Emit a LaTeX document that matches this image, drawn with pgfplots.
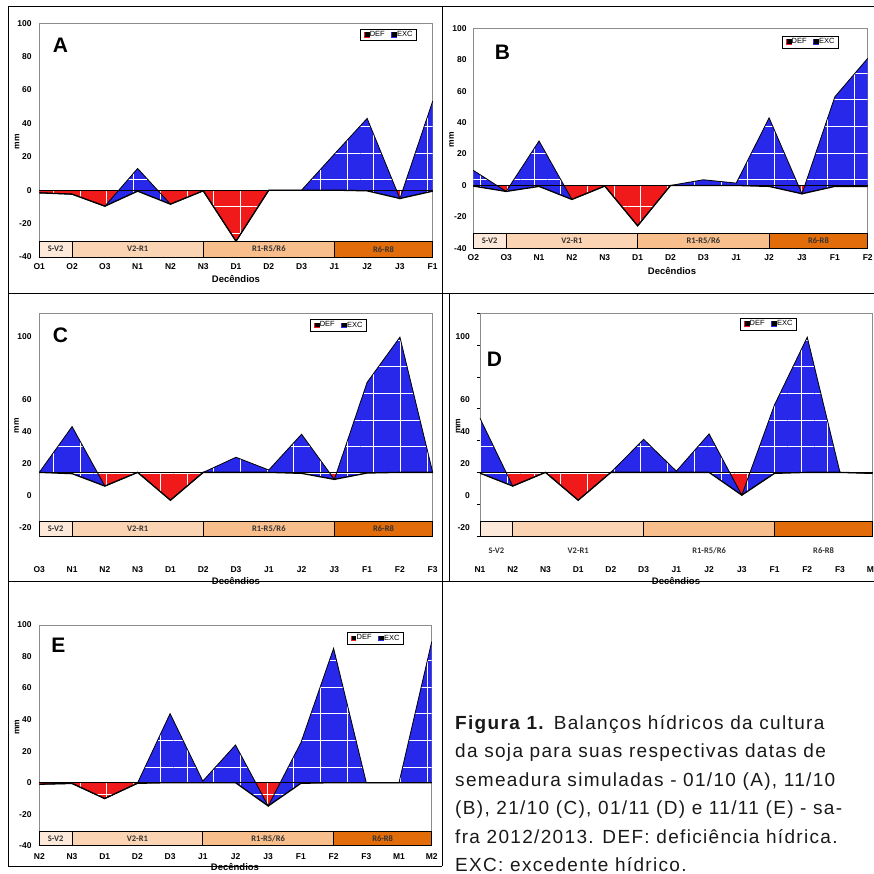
\documentclass[border=0pt]{standalone}
\usepackage{fontspec}
\setmainfont{Liberation Sans}
\newfontfamily\carlito{Carlito}
\newfontfamily\capfont[LetterSpace=7]{Liberation Sans}
\usepackage{pgfplots}
\pgfplotsset{compat=1.18}
\usepackage{pgfplotstable}
\usepgfplotslibrary{fillbetween}
\usetikzlibrary{patterns.meta}

\definecolor{excblue}{RGB}{40,40,235}
\definecolor{defred}{RGB}{240,26,26}
\definecolor{st1}{RGB}{253,233,217}
\definecolor{st2}{RGB}{251,212,180}
\definecolor{st3}{RGB}{248,190,140}
\definecolor{st4}{RGB}{226,107,10}

% x = decendio index, low = DEF, up = DEF + EXC
\pgfplotstableread{
x low up
0 -1.6 -1.6
1 -2.4 -2.4
2 -9.6 -9.6
3 -0.6 13
4 -8.4 -8.4
5 -0.4 -0.4
6 -30.6 -30.6
7 0 0
8 0 0
9 0 21.6
10 -0.4 43
11 -5 -5
12 -0.6 53.4
}\tabA
\pgfplotstableread{
x low up
0 -0.4 9.6
1 -3.8 -3.8
2 -0.6 28.3
3 -8.9 -8.9
4 -0.4 -0.4
5 -25.7 -25.7
6 0 0
7 0 3.6
8 0 1.5
9 -0.6 43
10 -5.3 -5.3
11 -0.6 56.4
12 -0.6 80.9
}\tabB
\pgfplotstableread{
x low up
0 0 0
1 -0.8 28.8
2 -8.6 -8.6
3 0 0
4 -17.5 -17.5
5 0 0
6 0 9.5
7 0 1.5
8 -0.6 24
9 -4.4 -4.4
10 -0.4 56.6
11 0 85
12 0 0
}\tabC
\pgfplotstableread{
x low up
0 -0.5 34
1 -8.6 -8.6
2 0 0
3 -17.5 -17.5
4 0 0
5 0 20.8
6 0 0.8
7 0 24.2
8 -14.3 -14.3
9 -0.6 42.5
10 0 85
11 0 0
12 -0.6 -0.6
}\tabD
\pgfplotstableread{
x low up
0 -1 -1
1 -0.5 -0.5
2 -10.1 -10.1
3 -0.4 -0.4
4 0 43.8
5 0 1
6 0 23.9
7 -14.8 -14.8
8 -0.4 25.4
9 0 85.2
10 0 0
11 0 0
12 0 89.4
}\tabE

\pgfplotsset{
  gridfill/.style={postaction={pattern={Hatch[distance=26.7pt, line width=0.7pt]}, pattern color=white}},
  bh/.style={
    scale only axis, xmin=0, xmax=12, ymin=-40, ymax=100,
    xtick={0,...,12}, clip=false,
    axis line style={black!45, line width=0.6pt},
    tick style={draw=none},
    tick label style={font=\bfseries\fontsize{8.5}{9}\selectfont},
    xticklabel style={anchor=center},
    yticklabel style={anchor=east, inner sep=0pt},
    /pgf/number format/assume math mode=true,
    legend columns=2,
    legend style={draw=black, line width=0.6pt, inner xsep=3.5pt, inner ysep=1.8pt,
      font=\fontsize{7.5}{8}\selectfont, anchor=north east,
      /tikz/every even column/.append style={column sep=6pt},
      nodes={inner sep=0.6pt}},
  },
}

\newcommand{\balance}[2]{%
  \addplot[name path=zero#2, draw=none, forget plot] coordinates {(0,0) (12,0)};
  \addplot[name path=low#2, draw=none, forget plot] table[x=x, y=low] {#1};
  \addplot[name path=up#2, draw=none, forget plot] table[x=x, y=up] {#1};
  \addplot[fill=defred, draw=none, gridfill, forget plot] fill between[of=zero#2 and low#2];
  \addplot[fill=excblue, draw=none, gridfill, forget plot] fill between[of=low#2 and up#2];
  \addplot[black, line width=0.8pt, forget plot] coordinates {(0,0) (12,0)};
  \addplot[black, line width=1.3pt, forget plot] table[x=x, y=low] {#1};
  \addplot[black, line width=0.8pt, forget plot] table[x=x, y=up] {#1};
}
\tikzset{stlab/.style={font=\carlito\bfseries\fontsize{8.5}{9}\selectfont, text=black!80, inner sep=0pt}}
\newcommand{\stages}[1]{%
  \draw[fill=st1, line width=0.7pt] (axis cs:0,-30.7) rectangle (axis cs:1,-40);
  \draw[fill=st2, line width=0.7pt] (axis cs:1,-30.7) rectangle (axis cs:5,-40);
  \draw[fill=st3, line width=0.7pt] (axis cs:5,-30.7) rectangle (axis cs:9,-40);
  \draw[fill=st4, line width=0.7pt] (axis cs:9,-30.7) rectangle (axis cs:12,-40);
  \node[stlab] at (axis cs:0.5,#1) {S-V2};
  \node[stlab] at (axis cs:3,#1) {V2-R1};
  \node[stlab] at (axis cs:7,#1) {R1-R5/R6};
  \node[stlab] at (axis cs:10.5,#1) {R6-R8};
}
\newcommand{\leg}{%
  \addlegendimage{legend image code/.code={\fill[defred] (0pt,-2.3pt) rectangle (4.6pt,2.3pt); \fill[black] (0.9pt,-1.4pt) rectangle (4.6pt,2.3pt);}}
  \addlegendentry{DEF}
  \addlegendimage{legend image code/.code={\fill[excblue] (0pt,-2.3pt) rectangle (4.6pt,2.3pt); \fill[black] (0.9pt,-1.4pt) rectangle (4.6pt,2.3pt);}}
  \addlegendentry{EXC}
}

\begin{document}
\begin{tikzpicture}

% A
\begin{axis}[bh, at={(39.3pt,-256.9pt)}, anchor=south west, width=393.4pt, height=233.6pt,
  xticklabels={O1,O2,O3,N1,N2,N3,D1,D2,D3,J1,J2,J3,F1},
  ytick={-40,-20,0,20,40,60,80,100}, yticklabels={-40,-20,0,20,40,60,80,100},
  xticklabel style={yshift=-9.8pt}, yticklabel style={xshift=-7.6pt},
  legend style={at={(0.960,0.976)}}]
\leg
\balance{\tabA}{a}
\stages{-35.35}
\end{axis}

% B
\begin{axis}[bh, at={(473.3pt,-248.3pt)}, anchor=south west, width=394.4pt, height=220pt,
  xticklabels={O2,O3,N1,N2,N3,D1,D2,D3,J1,J2,J3,F1,F2},
  ytick={-40,-20,0,20,40,60,80,100}, yticklabels={-40,-20,0,20,40,60,80,100},
  xticklabel style={yshift=-9.4pt}, yticklabel style={xshift=-6.6pt},
  legend style={at={(0.927,0.965)}}]
\leg
\balance{\tabB}{b}
\stages{-35.35}
\end{axis}

% C
\begin{axis}[bh, at={(39.3pt,-536pt)}, anchor=south west, width=393.4pt, height=222.7pt,
  xticklabels={O3,N1,N2,N3,D1,D2,D3,J1,J2,J3,F1,F2,F3},
  ytick={-34.5,-14.6,5.7,25.8,45.6,85.6}, yticklabels={-20,0,20,40,60,100},
  xticklabel style={yshift=-33.3pt}, yticklabel style={xshift=-7.6pt},
  legend style={at={(0.833,0.974)}}]
\leg
\balance{\tabC}{c}
\stages{-35.35}
\end{axis}

% D
\begin{axis}[bh, at={(480pt,-536pt)}, anchor=south west, width=392.7pt, height=222.7pt,
  xticklabels={N1,N2,N3,D1,D2,D3,J1,J2,J3,F1,F2,F3,M1},
  ytick={-34.5,-14.6,5.7,25.8,45.6,85.6}, yticklabels={-20,0,20,40,60,100},
  ytick pos=left,
  extra y ticks={-40,-20,0,20,40,60,80,100}, extra y tick labels={},
  extra y tick style={tick align=outside, major tick length=3pt, tick style={draw=black, line width=0.6pt}},
  xticklabel style={yshift=-33.3pt}, yticklabel style={xshift=-10pt},
  legend style={at={(0.807,0.979)}}]
\leg
\balance{\tabD}{d}
\stages{-49}
\end{axis}

% E
\begin{axis}[bh, at={(39.3pt,-845.7pt)}, anchor=south west, width=392.4pt, height=220.7pt,
  xticklabels={N2,N3,D1,D2,D3,J1,J2,J3,F1,F2,F3,M1,M2},
  ytick={-40,-20,0,20,40,60,80,100}, yticklabels={-40,-20,0,20,40,60,80,100},
  xticklabel style={yshift=-11pt}, yticklabel style={xshift=-7.6pt},
  legend style={at={(0.929,0.968)}}]
\leg
\balance{\tabE}{e}
\stages{-35.35}
\end{axis}

% panel letters
\tikzset{plet/.style={font=\bfseries\fontsize{21}{21}\selectfont, inner sep=0pt}}
\node[plet] at (60.5pt,-45.5pt) {A};
\node[plet] at (502.5pt,-52.5pt) {B};
\node[plet] at (60.5pt,-335pt) {C};
\node[plet] at (494.5pt,-359.5pt) {D};
\node[plet] at (58.5pt,-645pt) {E};

% axis titles
\tikzset{mml/.style={font=\bfseries\fontsize{8.5}{9}\selectfont, rotate=90, inner sep=0pt},
  dcl/.style={font=\bfseries\fontsize{9.5}{10}\selectfont, inner sep=0pt}}
\node[mml] at (17pt,-142pt) {mm};
\node[mml] at (451.7pt,-140pt) {mm};
\node[mml] at (16.7pt,-425.5pt) {mm};
\node[mml] at (458pt,-426pt) {mm};
\node[mml] at (17pt,-727pt) {mm};
\node[dcl] at (236pt,-279pt) {Decêndios};
\node[dcl] at (672pt,-271pt) {Decêndios};
\node[dcl] at (236pt,-581pt) {Decêndios};
\node[dcl] at (676pt,-581pt) {Decêndios};
\node[dcl] at (235pt,-867pt) {Decêndios};

% frames
\draw[black, line width=1pt] (8pt,-7pt) -- (874pt,-7pt);
\draw[black, line width=1pt] (8pt,-7pt) -- (8pt,-866pt) -- (442pt,-866pt);
\draw[black, line width=1pt] (442pt,-7pt) -- (442pt,-866pt);
\draw[black, line width=1pt] (8pt,-293pt) -- (874pt,-293pt);
\draw[black, line width=1pt] (449pt,-293pt) -- (449pt,-581pt);
\draw[black, line width=1pt] (8pt,-581pt) -- (874pt,-581pt);

% caption
\tikzset{capl/.style={anchor=base west, inner sep=0pt, text=black!90, font=\capfont\fontsize{19}{28}\selectfont}}
\node[capl] at (455pt,-729pt) {\textbf{Figura 1.} Balanços hídricos da cultura};
\node[capl] at (455pt,-757.5pt) {da soja para suas respectivas datas de};
\node[capl] at (455pt,-786pt) {semeadura simuladas - 01/10 (A), 11/10};
\node[capl] at (455pt,-814.5pt) {(B), 21/10 (C), 01/11 (D) e 11/11 (E) - sa-};
\node[capl] at (455pt,-843pt) {fra 2012/2013. DEF: deficiência hídrica.};
\node[capl] at (455pt,-871.5pt) {EXC: excedente hídrico.};

\pgfresetboundingbox
\useasboundingbox (0,0) rectangle (874pt,-874pt);
\end{tikzpicture}
\end{document}
